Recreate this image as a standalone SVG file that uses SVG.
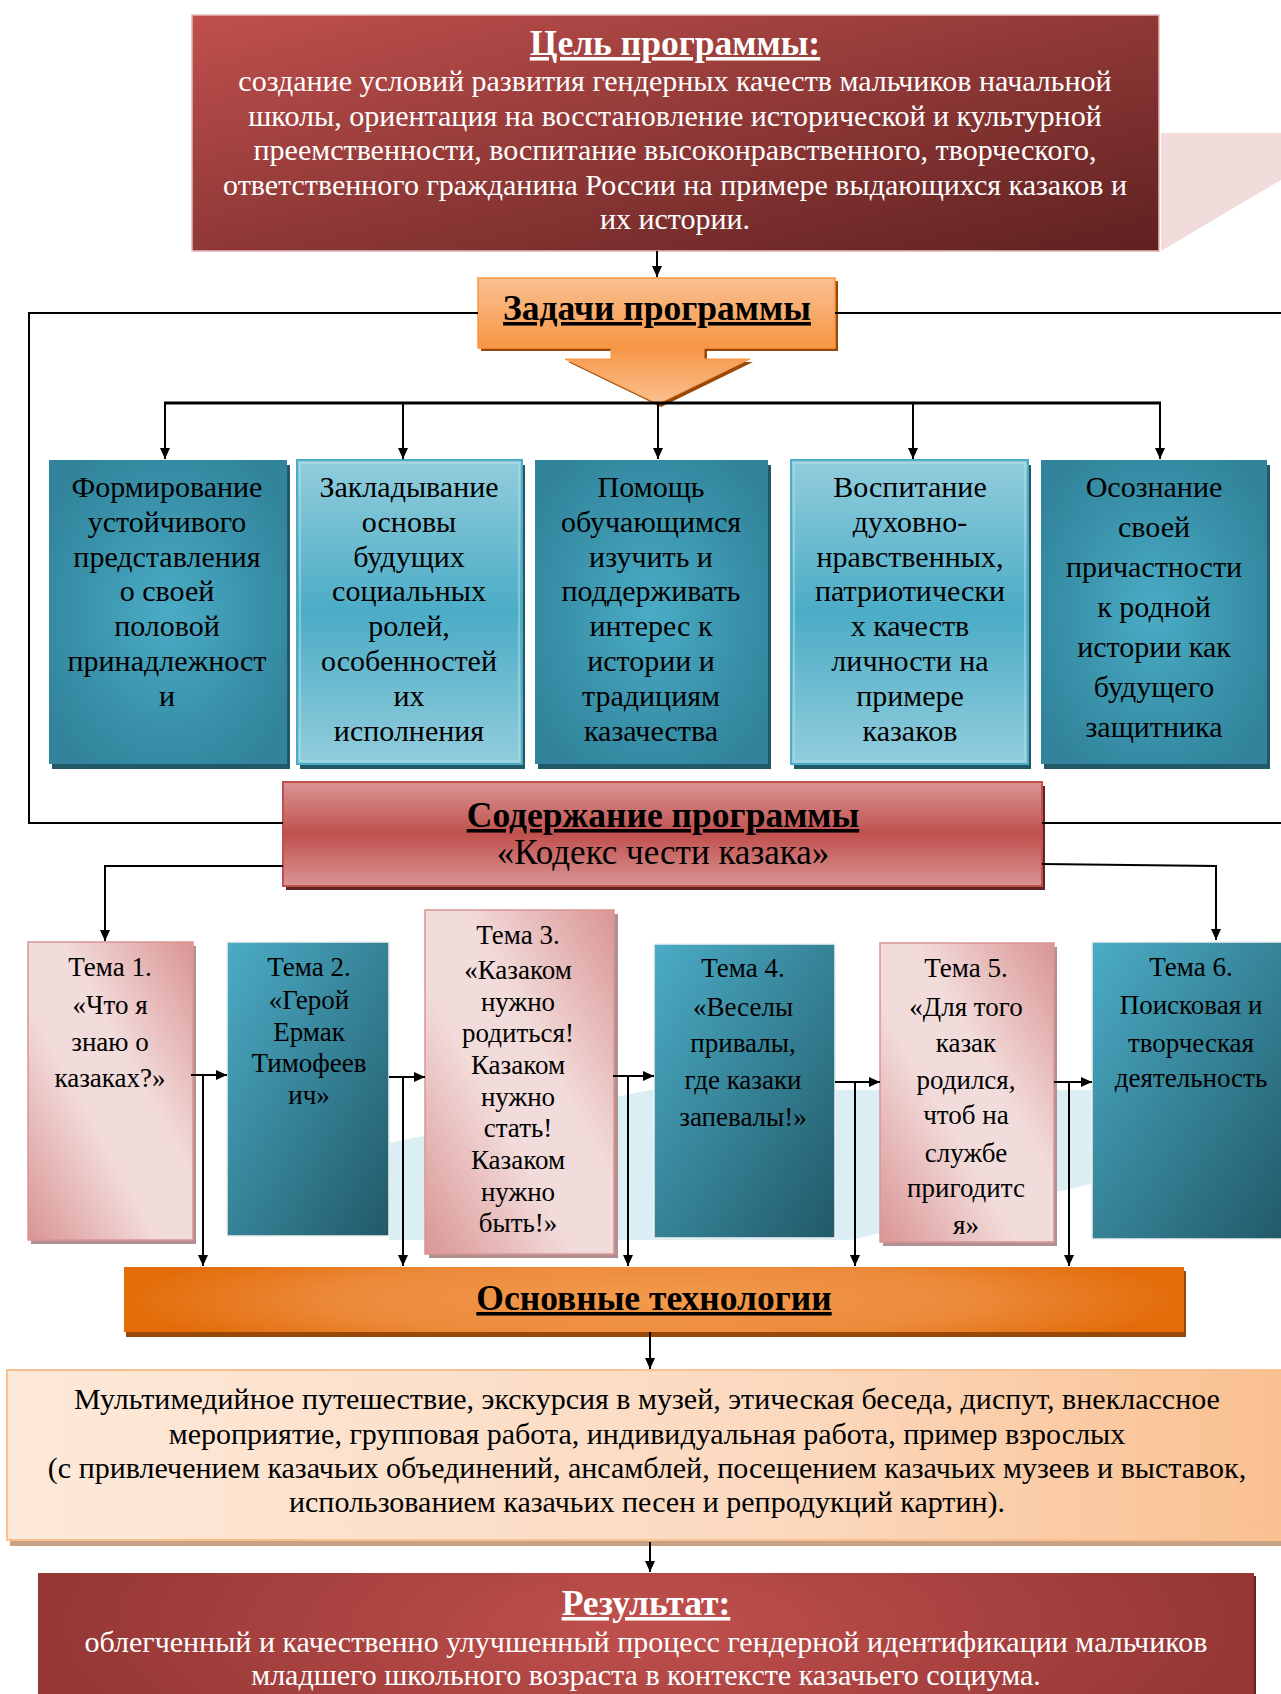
<svg xmlns="http://www.w3.org/2000/svg" width="1281" height="1694" viewBox="0 0 1281 1694">
<defs>
<style>
text{font-family:"Liberation Serif","Times New Roman",serif;text-anchor:middle}
.t30{font-size:30px;fill:#000}
.t27{font-size:27px;fill:#000}
.hd{font-size:35.5px;font-weight:bold;text-decoration:underline}
.wb{font-size:30px;fill:#fff}
.bk{font-size:30px;fill:#000}
.ln{stroke:#000;stroke-width:2;fill:none}
.ar{marker-end:url(#ah)}
</style>
<marker id="ah" markerUnits="userSpaceOnUse" markerWidth="12" markerHeight="12" refX="11" refY="5" orient="auto"><path d="M0,0 L11,5 L0,10 z" fill="#000"/></marker>
<linearGradient id="gTop" x1="0" y1="0" x2="1" y2="1"><stop offset="0" stop-color="#c0504d"/><stop offset="1" stop-color="#5e2120"/></linearGradient>
<linearGradient id="gZad" x1="0" y1="0" x2="0" y2="1"><stop offset="0" stop-color="#fac090"/><stop offset="1" stop-color="#f79646"/></linearGradient>
<linearGradient id="gArr" x1="0" y1="0" x2="0" y2="1"><stop offset="0" stop-color="#f79646"/><stop offset="1" stop-color="#fac090"/></linearGradient>
<radialGradient id="gTeal" cx="0.5" cy="0.5" r="0.6"><stop offset="0" stop-color="#4bacc6"/><stop offset="0.55" stop-color="#3b95ad"/><stop offset="1" stop-color="#31849b"/></radialGradient>
<linearGradient id="gLight" x1="0" y1="0" x2="0" y2="1"><stop offset="0" stop-color="#92cddc"/><stop offset="0.5" stop-color="#4bacc6"/><stop offset="1" stop-color="#92cddc"/></linearGradient>
<linearGradient id="gSod" x1="0" y1="0" x2="0" y2="1"><stop offset="0" stop-color="#d99594"/><stop offset="0.5" stop-color="#c0504d"/><stop offset="1" stop-color="#d99594"/></linearGradient>
<linearGradient id="gPink" x1="1" y1="0" x2="0" y2="1"><stop offset="0" stop-color="#d99594"/><stop offset="0.4" stop-color="#f2dcdb"/><stop offset="0.6" stop-color="#f2dcdb"/><stop offset="1" stop-color="#d99594"/></linearGradient>
<linearGradient id="gTT" x1="0" y1="0" x2="1" y2="1"><stop offset="0" stop-color="#4bacc6"/><stop offset="1" stop-color="#215968"/></linearGradient>
<radialGradient id="gOsn" cx="0.5" cy="0.5" r="0.5" gradientTransform="translate(0.5 0.5) scale(1 2) translate(-0.5 -0.5)"><stop offset="0" stop-color="#f39a4c"/><stop offset="0.6" stop-color="#ec8a3a"/><stop offset="1" stop-color="#e36c09"/></radialGradient>
<linearGradient id="gTech" x1="0" y1="0" x2="1" y2="0"><stop offset="0" stop-color="#fde9d9"/><stop offset="0.6" stop-color="#fbd9bf"/><stop offset="1" stop-color="#fac090"/></linearGradient>
<radialGradient id="gRes" cx="0.5" cy="0.4" r="0.5" gradientTransform="translate(0.5 0.4) scale(1 3) translate(-0.5 -0.4)"><stop offset="0" stop-color="#c0504d"/><stop offset="1" stop-color="#953735"/></radialGradient>
</defs>
<rect width="1281" height="1694" fill="#fff"/>

<!-- background decorations -->
<polygon points="1161,133 1281,133 1281,180 1161,251" fill="#f2dcdb"/>
<polygon points="389,1240 389,1143 650,1090 1100,1090 1100,1182 850,1240" fill="#dbeef4"/>

<g id="goal">
<rect x="192" y="15" width="967" height="236" fill="url(#gTop)" stroke="#e6b9b8" stroke-width="1.5"/>
<text x="675" y="55" class="hd" fill="#fff">Цель программы:</text>
<text x="675" y="91" class="wb">создание условий развития гендерных качеств мальчиков начальной</text>
<text x="675" y="125.5" class="wb">школы, ориентация на восстановление исторической и культурной</text>
<text x="675" y="160" class="wb">преемственности, воспитание высоконравственного, творческого,</text>
<text x="675" y="194.5" class="wb">ответственного гражданина России на примере выдающихся казаков и</text>
<text x="675" y="229" class="wb">их истории.</text>
</g>

<g id="tasks-head">
<rect x="481" y="281" width="357" height="70" fill="#984807"/>
<rect x="478" y="278" width="357" height="70" fill="url(#gZad)" stroke="#f79646" stroke-width="1.5"/>
<polygon points="614,350 707,350 707,362 753,362 661,407 568,362 614,362" fill="#984807"/>
<polygon points="611,347 704,347 704,359 750,359 658,404 565,359 611,359" fill="url(#gArr)" stroke="#f79646" stroke-width="1"/>
<text x="657" y="320" class="hd" fill="#000">Задачи программы</text>
</g>

<g id="task1">
<rect x="52" y="465" width="238" height="304" fill="#215968"/>
<rect x="49" y="460" width="238" height="304" fill="url(#gTeal)"/>
<text class="t30"><tspan x="167" y="497">Формирование</tspan><tspan x="167" y="532">устойчивого</tspan><tspan x="167" y="567">представления</tspan><tspan x="167" y="601">о своей</tspan><tspan x="167" y="636">половой</tspan><tspan x="167" y="671">принадлежност</tspan><tspan x="167" y="706">и</tspan></text>
</g>
<g id="task2">
<rect x="300" y="465" width="225" height="304" fill="#215968"/>
<rect x="297" y="460" width="225" height="304" fill="url(#gLight)" stroke="#4bacc6" stroke-width="2"/>
<rect x="300" y="463" width="219" height="298" fill="none" stroke="#b6dde8" stroke-width="1"/>
<text class="t30"><tspan x="409" y="497">Закладывание</tspan><tspan x="409" y="532">основы</tspan><tspan x="409" y="567">будущих</tspan><tspan x="409" y="601">социальных</tspan><tspan x="409" y="636">ролей,</tspan><tspan x="409" y="671">особенностей</tspan><tspan x="409" y="706">их</tspan><tspan x="409" y="741">исполнения</tspan></text>
</g>
<g id="task3">
<rect x="538" y="465" width="233" height="304" fill="#215968"/>
<rect x="535" y="460" width="233" height="304" fill="url(#gTeal)"/>
<text class="t30"><tspan x="651" y="497">Помощь</tspan><tspan x="651" y="532">обучающимся</tspan><tspan x="651" y="567">изучить и</tspan><tspan x="651" y="601">поддерживать</tspan><tspan x="651" y="636">интерес к</tspan><tspan x="651" y="671">истории и</tspan><tspan x="651" y="706">традициям</tspan><tspan x="651" y="741">казачества</tspan></text>
</g>
<g id="task4">
<rect x="794" y="465" width="237" height="304" fill="#215968"/>
<rect x="791" y="460" width="237" height="304" fill="url(#gLight)" stroke="#4bacc6" stroke-width="2"/>
<rect x="794" y="463" width="231" height="298" fill="none" stroke="#b6dde8" stroke-width="1"/>
<text class="t30"><tspan x="910" y="497">Воспитание</tspan><tspan x="910" y="532">духовно-</tspan><tspan x="910" y="567">нравственных,</tspan><tspan x="910" y="601">патриотически</tspan><tspan x="910" y="636">х качеств</tspan><tspan x="910" y="671">личности на</tspan><tspan x="910" y="706">примере</tspan><tspan x="910" y="741">казаков</tspan></text>
</g>
<g id="task5">
<rect x="1044" y="465" width="226" height="304" fill="#215968"/>
<rect x="1041" y="460" width="226" height="304" fill="url(#gTeal)"/>
<text class="t30"><tspan x="1154" y="497">Осознание</tspan><tspan x="1154" y="537">своей</tspan><tspan x="1154" y="577">причастности</tspan><tspan x="1154" y="617">к родной</tspan><tspan x="1154" y="657">истории как</tspan><tspan x="1154" y="697">будущего</tspan><tspan x="1154" y="737">защитника</tspan></text>
</g>

<g id="content">
<rect x="286" y="786" width="759" height="104" fill="#632523"/>
<rect x="283" y="782" width="759" height="104" fill="url(#gSod)" stroke="#c0504d" stroke-width="2"/>
<text x="663" y="827" class="hd" fill="#000">Содержание программы</text>
<text x="663" y="864" class="bk" style="font-size:35px">«Кодекс чести казака»</text>
</g>

<g id="theme1">
<rect x="31" y="946" width="165" height="298" fill="#b09090"/>
<rect x="28" y="942" width="165" height="298" fill="url(#gPink)" stroke="#d99594" stroke-width="1.5"/>
<text class="t27"><tspan x="110" y="976">Тема 1.</tspan><tspan x="110" y="1014">«Что я</tspan><tspan x="110" y="1051">знаю о</tspan><tspan x="110" y="1087">казаках?»</tspan></text>
</g>
<g id="theme2">
<rect x="227" y="942" width="162" height="294" fill="url(#gTT)" stroke="#f0f0f0" stroke-width="1.5"/>
<text class="t27"><tspan x="309" y="976">Тема 2.</tspan><tspan x="309" y="1009">«Герой</tspan><tspan x="309" y="1041">Ермак</tspan><tspan x="309" y="1072">Тимофеев</tspan><tspan x="309" y="1104">ич»</tspan></text>
</g>
<g id="theme3">
<rect x="429" y="914" width="189" height="344" fill="#b09090"/>
<rect x="425" y="910" width="189" height="344" fill="url(#gPink)" stroke="#d99594" stroke-width="1.5"/>
<text class="t27"><tspan x="518" y="944">Тема 3.</tspan><tspan x="518" y="979">«Казаком</tspan><tspan x="518" y="1011">нужно</tspan><tspan x="518" y="1042">родиться!</tspan><tspan x="518" y="1074">Казаком</tspan><tspan x="518" y="1106">нужно</tspan><tspan x="518" y="1137">стать!</tspan><tspan x="518" y="1169">Казаком</tspan><tspan x="518" y="1201">нужно</tspan><tspan x="518" y="1232">быть!»</tspan></text>
</g>
<g id="theme4">
<rect x="654" y="944" width="181" height="294" fill="url(#gTT)" stroke="#f0f0f0" stroke-width="1.5"/>
<text class="t27"><tspan x="743" y="977">Тема 4.</tspan><tspan x="743" y="1016">«Веселы</tspan><tspan x="743" y="1052">привалы,</tspan><tspan x="743" y="1089">где казаки</tspan><tspan x="743" y="1126">запевалы!»</tspan></text>
</g>
<g id="theme5">
<rect x="883" y="947" width="174" height="299" fill="#b09090"/>
<rect x="880" y="943" width="174" height="299" fill="url(#gPink)" stroke="#d99594" stroke-width="1.5"/>
<text class="t27"><tspan x="966" y="977">Тема 5.</tspan><tspan x="966" y="1016">«Для того</tspan><tspan x="966" y="1052">казак</tspan><tspan x="966" y="1089">родился,</tspan><tspan x="966" y="1124">чтоб на</tspan><tspan x="966" y="1162">службе</tspan><tspan x="966" y="1197">пригодитс</tspan><tspan x="966" y="1234">я»</tspan></text>
</g>
<g id="theme6">
<rect x="1092" y="942" width="195" height="297" fill="url(#gTT)" stroke="#f0f0f0" stroke-width="1.5"/>
<text class="t27"><tspan x="1191" y="976">Тема 6.</tspan><tspan x="1191" y="1014">Поисковая и</tspan><tspan x="1191" y="1052">творческая</tspan><tspan x="1191" y="1087">деятельность</tspan></text>
</g>

<g id="tech-head">
<rect x="126" y="1271" width="1060" height="66" fill="#984807"/>
<rect x="124" y="1267" width="1060" height="65" fill="url(#gOsn)"/>
<text x="654" y="1310" class="hd" fill="#000">Основные технологии</text>
</g>

<g id="tech">
<rect x="10" y="1376" width="1280" height="170" fill="#c9a184"/>
<rect x="7" y="1370" width="1280" height="170" fill="url(#gTech)" stroke="#fac090" stroke-width="2"/>
<text x="647" y="1409" class="bk">Мультимедийное путешествие, экскурсия в музей, этическая беседа, диспут, внеклассное</text>
<text x="647" y="1443.5" class="bk">мероприятие, групповая работа, индивидуальная работа, пример взрослых</text>
<text x="647" y="1478" class="bk">(с привлечением казачьих объединений, ансамблей, посещением казачьих музеев и выставок,</text>
<text x="647" y="1512" class="bk">использованием казачьих песен и репродукций картин).</text>
</g>

<g id="result">
<rect x="40" y="1576" width="1216" height="130" fill="#632523"/>
<rect x="38" y="1573" width="1216" height="130" fill="url(#gRes)"/>
<text x="646" y="1615" class="hd" fill="#fff">Результат:</text>
<text x="646" y="1652" class="wb">облегченный и качественно улучшенный процесс гендерной идентификации мальчиков</text>
<text x="646" y="1685" class="wb">младшего школьного возраста в контексте казачьего социума.</text>
</g>

<g id="connectors">
<line class="ln ar" x1="657" y1="251" x2="657" y2="277"/>
<polyline class="ln" points="478,313 29,313 29,823 283,823"/>
<line class="ln" x1="835" y1="313" x2="1281" y2="313"/>
<line class="ln" x1="1042" y1="823" x2="1281" y2="823"/>
<line x1="164" y1="403" x2="1161" y2="403" stroke="#000" stroke-width="3"/>
<line class="ln ar" x1="165" y1="403" x2="165" y2="459"/>
<line class="ln ar" x1="403" y1="403" x2="403" y2="459"/>
<line class="ln ar" x1="658" y1="403" x2="658" y2="459"/>
<line class="ln ar" x1="913" y1="403" x2="913" y2="459"/>
<line class="ln ar" x1="1160" y1="403" x2="1160" y2="459"/>
<polyline class="ln ar" points="283,866 105,866 105,941"/>
<polyline class="ln ar" points="1042,864 1216,866 1216,940"/>
<line class="ln ar" x1="191" y1="1075" x2="227" y2="1075"/>
<line class="ln ar" x1="203" y1="1075" x2="203" y2="1266"/>
<line class="ln ar" x1="389" y1="1077" x2="425" y2="1077"/>
<line class="ln ar" x1="403" y1="1077" x2="403" y2="1266"/>
<line class="ln ar" x1="613" y1="1076" x2="654" y2="1076"/>
<line class="ln ar" x1="628" y1="1076" x2="628" y2="1266"/>
<line class="ln ar" x1="835" y1="1082" x2="880" y2="1082"/>
<line class="ln ar" x1="855" y1="1082" x2="855" y2="1266"/>
<line class="ln ar" x1="1054" y1="1082" x2="1092" y2="1082"/>
<line class="ln ar" x1="1069" y1="1082" x2="1069" y2="1266"/>
<line class="ln ar" x1="650" y1="1332" x2="650" y2="1369"/>
<line class="ln ar" x1="650" y1="1542" x2="650" y2="1572"/>
</g>
</svg>
